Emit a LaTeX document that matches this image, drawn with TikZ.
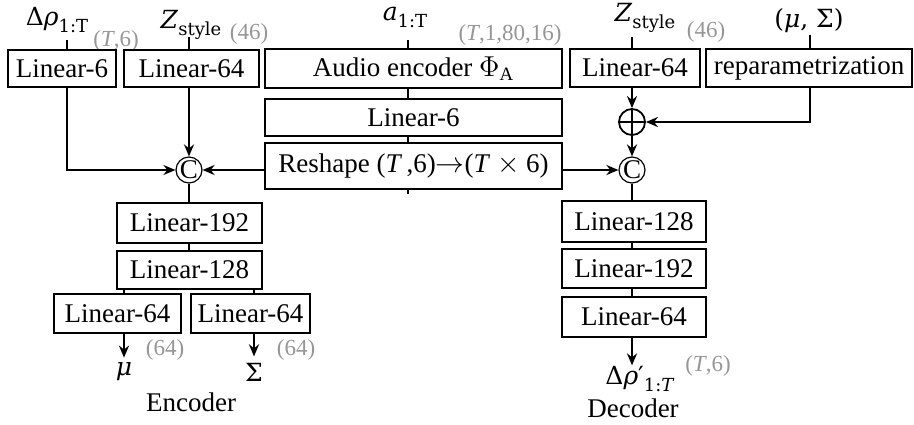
\documentclass[tikz,border=0pt]{standalone}
\usepackage{fontspec}
\setmainfont{Liberation Serif}
\newfontfamily\mf{DejaVu Serif}
\usetikzlibrary{arrows.meta,calc}
\definecolor{lbl}{RGB}{150,150,150}
\newcommand{\mysub}[1]{\raisebox{-0.3em}{\fontsize{9}{10}\selectfont #1}}
\begin{document}
\begin{tikzpicture}[x=0.5pt,y=-0.5pt,
  box/.style={draw,line width=0.65pt,inner sep=0pt,font=\fontsize{13.5}{16}\selectfont},
  lab/.style={inner sep=0pt,font=\mf\fontsize{12.5}{14}\selectfont},
  dim/.style={inner sep=0pt,text=lbl,font=\fontsize{11.5}{14}\selectfont},
  captext/.style={inner sep=0pt,font=\fontsize{13.5}{16}\selectfont},
  opnode/.style={circle,draw,line width=0.6pt,inner sep=0pt,minimum size=13pt,font=\fontsize{13.5}{16}\selectfont},
  thinline/.style={line width=0.6pt},
  thickline/.style={line width=1.3pt},
  thinarrow/.style={line width=0.8pt,-{Stealth[length=6pt,width=5pt]}},
  thickarrow/.style={line width=1.3pt,-{Stealth[length=6pt,width=5pt]}},
]
\useasboundingbox (0,0) rectangle (914,424);

% ---------- top labels ----------
\node[lab,anchor=base] (drho) at (57,25) {Δ\textit{ρ}\mysub{1:T}};
\node[dim] (dimA) at (116,41) {(\textit{T},6)};
\node[lab,anchor=base] (zs1) at (191,28) {\textit{Z}\mysub{style}};
\node[dim] (dimB) at (249,34) {(46)};
\node[lab,anchor=base] (aud1) at (405,20) {\textit{a}\mysub{1:T}};
\node[dim] (dimC) at (510,35) {(\textit{T},1,80,16)};
\node[lab,anchor=base] (zs2) at (645,21) {\textit{Z}\mysub{style}};
\node[dim] (dimD) at (706,32) {(46)};
\node[lab,anchor=base] (musig) at (809,27) {(\textit{μ}, Σ)};

\coordinate (tA) at (67,40);
\coordinate (tB) at (189,37);
\coordinate (tC) at (408,40);
\coordinate (tD) at (632,37);
\coordinate (tE) at (810,35);

% ---------- top boxes ----------
\node[box,minimum width=54pt,minimum height=18.5pt] (la6) at (62,68.5) {Linear-6};
\node[box,minimum width=67.5pt,minimum height=18.5pt] (la64) at (191.5,68.5) {Linear-64};
\node[box,minimum width=148.5pt,minimum height=19.5pt] (aud) at (413.5,68.5) {Audio encoder $\Phi_{\mathrm{A}}$};
\node[box,minimum width=148.5pt,minimum height=18.5pt] (l6b) at (413.5,117.5) {Linear-6};
\node[box,minimum width=148.5pt,minimum height=23pt] (rs) at (413.5,166) {Reshape (\textit{T}\,,6)$\rightarrow$(\textit{T} $\times$ 6)};
\node[box,minimum width=65pt,minimum height=19pt] (lb64) at (635,68) {Linear-64};
\node[box,minimum width=103pt,minimum height=19pt] (rep) at (809,68) {reparametrization};

% ---------- operators ----------
\node[opnode] (c1) at (189,170) {C};
\node[opnode] (c2) at (632,170) {C};
\node[opnode,line width=0.9pt] (plus) at (632,122) {};
\draw[line width=0.9pt] (plus.north) -- (plus.south) (plus.west) -- (plus.east);

% ---------- encoder ----------
\node[box,minimum width=72.5pt,minimum height=20pt] (e192) at (189.5,223) {Linear-192};
\node[box,minimum width=72.5pt,minimum height=19pt] (e128) at (189.5,270) {Linear-128};
\node[box,minimum width=63.5pt,minimum height=19.5pt] (e64a) at (117.5,313.5) {Linear-64};
\node[box,minimum width=59.5pt,minimum height=19.5pt] (e64b) at (250.5,313.5) {Linear-64};
\node[lab,anchor=base] (mu) at (124,375) {\textit{μ}};
\node[lab,anchor=base] (sig) at (254,381) {Σ};
\node[dim] (dimE) at (165,350) {(64)};
\node[dim] (dimF) at (296,350) {(64)};
\node[captext] (enc) at (191,402) {Encoder};

% ---------- decoder ----------
\node[box,minimum width=72pt,minimum height=20.5pt] (d128) at (634,221.5) {Linear-128};
\node[box,minimum width=72pt,minimum height=19.5pt] (d192) at (634,268.5) {Linear-192};
\node[box,minimum width=72pt,minimum height=20pt] (d64) at (634,317) {Linear-64};
\node[lab,anchor=base] (drho2) at (640,384) {Δ\textit{ρ}′\mysub{1:\textit{T}}};
\node[dim] (dimG) at (708,366) {(\textit{T},6)};
\node[captext] (dec) at (633,408) {Decoder};

% ---------- connectors ----------
\draw[thinline] (tA) -- (tA |- la6.north);
\draw[thickline] (tB) -- (tB |- la64.north);
\draw[thinline] (tC) -- (tC |- aud.north);
\draw[thinline] (aud.south -| tC) -- (tC |- l6b.north);
\draw[thinline] (l6b.south -| tC) -- (tC |- rs.north);
\draw[thinline] (rs.south -| tC) -- ++(0,4);
\draw[thickline] (tD) -- (tD |- lb64.north);
\draw[thinline] (tE) -- (tE |- rep.north);

\draw[thinarrow] (la6.south -| tA) |- (c1.west);
\draw[thickarrow] (la64.south -| c1) -- (c1.north);
\draw[thickarrow] (rs.west |- c1) -- (c1.east);
\draw[thickarrow] (rs.east |- c2) -- (c2.west);
\draw[thickarrow] (lb64.south -| plus) -- (plus.north);
\draw[thickarrow] (rep.south -| tE) |- (plus.east);
\draw[thickarrow] (plus.south) -- (c2.north);

\draw[thinline] (c1.south) -- (e192.north -| c1);
\draw[thinline] (e192.south -| c1) -- (e128.north -| c1);
\draw[thinline] (e128.south -| mu) -- (e64a.north -| mu);
\draw[thinline] (e128.south -| sig) -- (e64b.north -| sig);
\draw[thickarrow] (e64a.south -| mu) -- ($(mu.north)+(0,-4)$);
\draw[thickarrow] (e64b.south -| sig) -- ($(sig.north)+(0,-6)$);

\draw[thickline] (c2.south) -- (d128.north -| c2);
\draw[thickline] (d128.south -| c2) -- (d192.north -| c2);
\draw[thickline] (d192.south -| c2) -- (d64.north -| c2);
\draw[thickarrow] (d64.south -| c2) -- (c2 |- drho2.north);
\end{tikzpicture}
\end{document}
